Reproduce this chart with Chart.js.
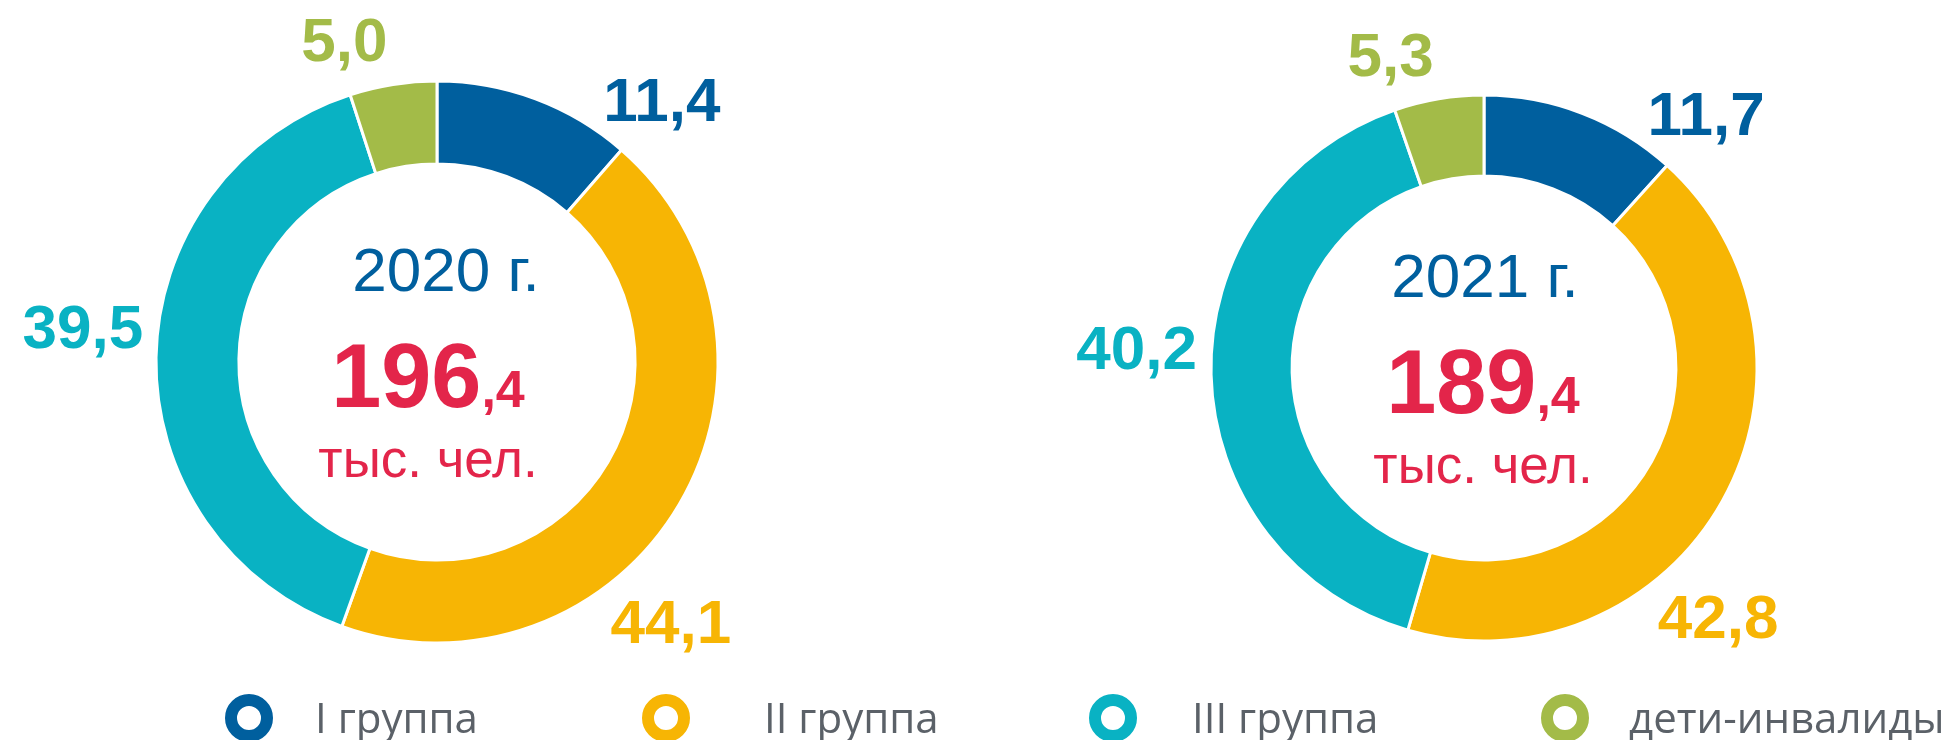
<!DOCTYPE html>
<html>
<head>
<meta charset="utf-8">
<script src="https://cdn.jsdelivr.net/npm/chart.js@4.4.0/dist/chart.umd.min.js"></script>
<style>
    body { margin: 0; width: 1950px; height: 740px; background: #fff; position: relative; overflow: hidden; }
    .wrap { position: absolute; top: 0; }
    .legend-ring { position: absolute; box-sizing: border-box; width: 48px; height: 48px; border-radius: 50%; border: 12px solid; }
    .legend-text { position: absolute; font-family: "Open Sans", sans-serif; font-size: 42px; line-height: 42px; color: #5b6168; white-space: nowrap; }
</style>
</head>
<body>
<div class="wrap" style="left:0; width:874px; height:724px;"><canvas id="chart2020" width="874" height="724"></canvas></div>
<div class="wrap" style="left:1018px; width:932px; height:736px;"><canvas id="chart2021" width="932" height="736"></canvas></div>
<div id="legend"></div>
<script>
// data
var categories = ['I группа', 'II группа', 'III группа', 'дети-инвалиды'];
var years = ['2020 г.', '2021 г.'];
var values2020 = [11.4, 44.1, 39.5, 5.0];
var values2021 = [11.7, 42.8, 40.2, 5.3];
var totals = [196.4, 189.4];
var colors = ['#005f9e', '#f7b504', '#09b2c3', '#a3bb48'];

// layout
var legendX = [225, 642, 1089, 1541];
var legendTextX = [315, 764, 1192, 1629];
var labelShift = [20, 17.5, 5, -7];   // degrees, from the arc middle
var labelGap = [65, 68, 75, 55];

function fmt(v) {
    return v.toFixed(1).replace('.', ',');
}

var labelsPlugin = {
    id: 'donutLabels',
    afterDraw: function (chart, args, opts) {
        var ctx = chart.ctx;
        var meta = chart.getDatasetMeta(0);
        var values = chart.data.datasets[0].data;
        ctx.save();
        meta.data.forEach(function (arc, i) {
            var mid = (arc.startAngle + arc.endAngle) / 2 + labelShift[i] * Math.PI / 180;
            var r = arc.outerRadius + labelGap[i];
            var x = arc.x + r * Math.cos(mid);
            var y = arc.y + r * Math.sin(mid);
            var size = 62;
            ctx.font = 'bold ' + size + 'px "Liberation Sans", Arial, sans-serif';
            ctx.fillStyle = colors[i];
            ctx.textAlign = 'center';
            ctx.textBaseline = 'alphabetic';
            ctx.fillText(fmt(values[i]), x, y + size * 0.716 / 2);
        });

        // centre text
        var cx = meta.data[0].x;
        var cy = meta.data[0].y;
        ctx.textAlign = 'center';
        ctx.font = '62px "Liberation Sans", Arial, sans-serif';
        ctx.fillStyle = colors[0];
        ctx.fillText(opts.year, cx + opts.dx, cy - 71);

        var parts = fmt(opts.total).split(',');
        var bigFont = 'bold 90px "Liberation Sans", Arial, sans-serif';
        var smallFont = 'bold 52px "Liberation Sans", Arial, sans-serif';
        ctx.font = bigFont;
        var w1 = ctx.measureText(parts[0]).width;
        ctx.font = smallFont;
        var w2 = ctx.measureText(',' + parts[1]).width;
        var left = cx - opts.dx - (w1 + w2) / 2;
        ctx.textAlign = 'left';
        ctx.fillStyle = '#e3254a';
        ctx.font = bigFont;
        ctx.fillText(parts[0], left, cy + 45);
        ctx.font = smallFont;
        ctx.fillText(',' + parts[1], left + w1, cy + 45);

        ctx.textAlign = 'center';
        ctx.font = '53px "Liberation Sans", Arial, sans-serif';
        ctx.fillText('тыс. чел.', cx - opts.dx, cy + 115);
        ctx.restore();
    }
};

function makeDonut(id, values, year, total, radius, cutout, dx) {
    var ctx = document.getElementById(id).getContext('2d');
    return new Chart(ctx, {
        type: 'doughnut',
        data: {
            labels: categories,
            datasets: [{
                data: values,
                backgroundColor: colors,
                borderColor: '#ffffff',
                borderWidth: 3
            }]
        },
        options: {
            responsive: false,
            animation: false,
            radius: radius,
            cutout: cutout,
            plugins: {
                legend: { display: false },
                tooltip: { enabled: false },
                donutLabels: { year: year, total: total, dx: dx }
            }
        },
        plugins: [labelsPlugin]
    });
}

makeDonut('chart2020', values2020, years[0], totals[0], 281, '70.5%', 9);
makeDonut('chart2021', values2021, years[1], totals[1], 273, '70.3%', 1);

// legend
var legend = document.getElementById('legend');
categories.forEach(function (name, i) {
    var ring = document.createElement('div');
    ring.className = 'legend-ring';
    ring.style.left = legendX[i] + 'px';
    ring.style.top = '694px';
    ring.style.borderColor = colors[i];
    legend.appendChild(ring);

    var text = document.createElement('div');
    text.className = 'legend-text';
    text.style.left = legendTextX[i] + 'px';
    text.style.top = '696px';
    text.textContent = name;
    legend.appendChild(text);
});
</script>
</body>
</html>
